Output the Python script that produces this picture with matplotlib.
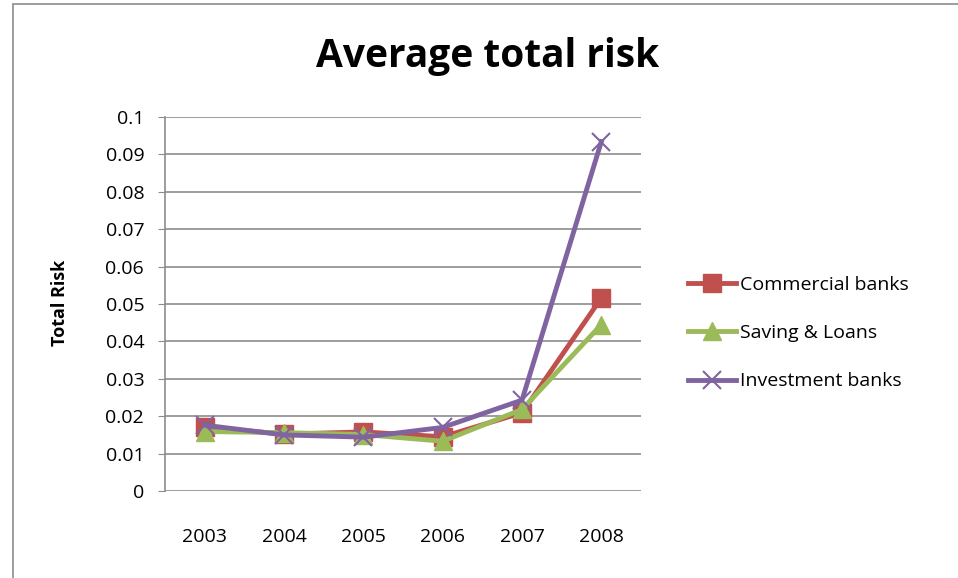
import matplotlib
matplotlib.use("Agg")
import matplotlib.pyplot as plt
from matplotlib.patches import Rectangle
from matplotlib import font_manager

years = ["2003", "2004", "2005", "2006", "2007", "2008"]
commercial = [0.0171, 0.0152, 0.0158, 0.0145, 0.0209, 0.0516]
savings = [0.0159, 0.0156, 0.0151, 0.0133, 0.0218, 0.0445]
investment = [0.0176, 0.0150, 0.0144, 0.0170, 0.0243, 0.0934]
yticks = [0, 0.01, 0.02, 0.03, 0.04, 0.05, 0.06, 0.07, 0.08, 0.09, 0.1]
ytick_labels = ["0", "0.01", "0.02", "0.03", "0.04", "0.05", "0.06", "0.07", "0.08", "0.09", "0.1"]

names = {f.name for f in font_manager.fontManager.ttflist}
fam = "Liberation Sans Narrow" if "Liberation Sans Narrow" in names else "Open Sans"
plt.rcParams["font.family"] = [fam, "DejaVu Sans"]

W, H = 958, 578
fig = plt.figure(figsize=(W / 100, H / 100), dpi=100)
fig.patches.append(Rectangle((13 / W, -0.1), 2, (1 - 4 / H) + 0.1, transform=fig.transFigure,
                             fill=False, edgecolor="#8c8c8c", linewidth=1.2))

ax = fig.add_axes([165 / W, 1 - 491 / H, (641 - 165) / W, (491 - 117) / H])
x = list(range(len(years)))
ax.plot(x, commercial, color="#c0504d", lw=3.5, marker="s", ms=13, label="Commercial banks")
ax.plot(x, savings, color="#9bbb59", lw=3.5, marker="^", ms=13, label="Saving & Loans")
ax.plot(x, investment, color="#8064a2", lw=3.5, marker="x", ms=13, mew=1.5, label="Investment banks")

ax.set_xlim(-0.5, len(years) - 0.5)
ax.set_ylim(0, 0.1)
ax.set_xticks(x)
ax.set_xticklabels(years, fontsize=14)
ax.set_yticks(yticks)
ax.set_yticklabels(ytick_labels, fontsize=14)
ax.tick_params(axis="x", length=0, pad=27)
ax.tick_params(axis="y", length=5, color="#8c8c8c", pad=10)
ax.yaxis.grid(True, color="#8c8c8c", lw=1.2)
ax.set_axisbelow(True)
for s in ["top", "right", "bottom"]:
    ax.spines[s].set_visible(False)
ax.spines["left"].set_color("#8c8c8c")
ax.spines["left"].set_linewidth(1.2)

fig.text(488 / W, 1 - 57 / H, "Average total risk", fontsize=28, fontweight="bold",
         ha="center", va="center")
fig.text(60 / W, 1 - 303 / H, "Total Risk", fontsize=13, fontweight="bold",
         rotation=90, ha="center", va="center")

ax.legend(loc="center left", bbox_to_anchor=(670 / W, 1 - 333 / H), bbox_transform=fig.transFigure,
          frameon=False, fontsize=14, handlelength=2.5, handletextpad=0.2, labelspacing=1.56,
          markerscale=1.0)

fig.savefig("out.png", dpi=100)
